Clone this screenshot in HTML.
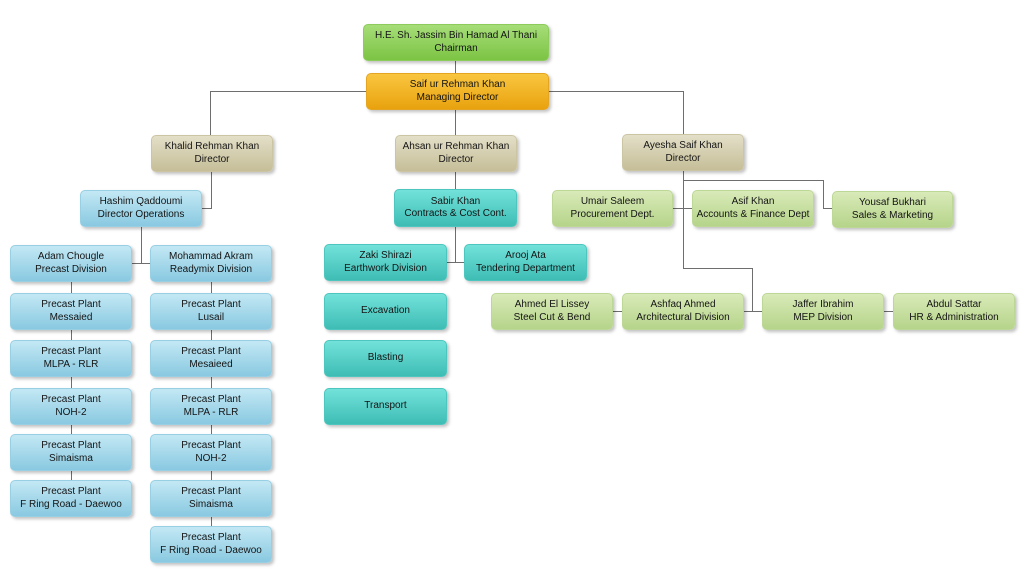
<!DOCTYPE html>
<html><head><meta charset="utf-8"><style>
html,body{margin:0;padding:0;background:#fff;}
body{width:1023px;height:570px;position:relative;overflow:hidden;font-family:"Liberation Sans",Arial,sans-serif;}
.b{position:absolute;width:122px;height:37px;border-radius:5px;box-sizing:border-box;display:flex;align-items:center;justify-content:center;text-align:center;font-size:10px;line-height:12.5px;color:#141414;box-shadow:2px 2px 3px rgba(0,0,0,0.25);white-space:nowrap;}
.g{background:linear-gradient(#a6dd78,#7cc444);border:1px solid #8ccb5c;}
.o{background:linear-gradient(#f9c640,#e9a20e);border:1px solid #e4a622;}
.t{background:linear-gradient(#e3dfc8,#c6be98);border:1px solid #ccc5a4;}
.bl{background:linear-gradient(#c3e8f4,#89c9e1);border:1px solid #98cfe3;}
.tl{background:linear-gradient(#72e2da,#3ebdb5);border:1px solid #4cc6be;}
.lg{background:linear-gradient(#d9eab8,#b6d48a);border:1px solid #bcd796;}
svg{position:absolute;left:0;top:0;}
</style></head><body>
<svg width="1023" height="570" viewBox="0 0 1023 570">
<g stroke="#6e6e6e" stroke-width="1" fill="none" shape-rendering="crispEdges">
<path d="M455.5 60 V73"/>
<path d="M366 91.5 H210.5 V135"/>
<path d="M548 91.5 H683.5 V134"/>
<path d="M455.5 109 V135"/>
<path d="M211.5 172 V208.5 H202"/>
<path d="M141.5 227 V263.5"/>
<path d="M132 263.5 H150"/>
<path d="M71.5 282 V480"/>
<path d="M211.5 282 V526"/>
<path d="M455.5 171 V189"/>
<path d="M455.5 227 V262.5"/>
<path d="M447 262.5 H464"/>
<path d="M683.5 171 V268.5 H752.5 V311.5"/>
<path d="M683.5 180.5 H823.5 V208.5 H832"/>
<path d="M673 208.5 H692"/>
<path d="M613 311.5 H622"/>
<path d="M744 311.5 H762"/>
<path d="M884 311.5 H893"/>
</g>
</svg>

<div class="b g" style="left:363px;top:24px;width:186px;height:37px;">H.E. Sh. Jassim Bin Hamad Al Thani<br>Chairman</div>
<div class="b o" style="left:366px;top:73px;width:183px;height:37px;">Saif ur Rehman Khan<br>Managing Director</div>

<div class="b t" style="left:151px;top:135px;">Khalid Rehman Khan<br>Director</div>
<div class="b t" style="left:395px;top:135px;">Ahsan ur Rehman Khan<br>Director</div>
<div class="b t" style="left:622px;top:134px;">Ayesha Saif Khan<br>Director</div>

<div class="b bl" style="left:80px;top:190px;">Hashim Qaddoumi<br>Director Operations</div>
<div class="b bl" style="left:10px;top:245px;">Adam Chougle<br>Precast Division</div>
<div class="b bl" style="left:150px;top:245px;">Mohammad Akram<br>Readymix Division</div>

<div class="b bl" style="left:10px;top:293px;">Precast Plant<br>Messaied</div>
<div class="b bl" style="left:10px;top:340px;">Precast Plant<br>MLPA - RLR</div>
<div class="b bl" style="left:10px;top:388px;">Precast Plant<br>NOH-2</div>
<div class="b bl" style="left:10px;top:434px;">Precast Plant<br>Simaisma</div>
<div class="b bl" style="left:10px;top:480px;">Precast Plant<br>F Ring Road - Daewoo</div>

<div class="b bl" style="left:150px;top:293px;">Precast Plant<br>Lusail</div>
<div class="b bl" style="left:150px;top:340px;">Precast Plant<br>Mesaieed</div>
<div class="b bl" style="left:150px;top:388px;">Precast Plant<br>MLPA - RLR</div>
<div class="b bl" style="left:150px;top:434px;">Precast Plant<br>NOH-2</div>
<div class="b bl" style="left:150px;top:480px;">Precast Plant<br>Simaisma</div>
<div class="b bl" style="left:150px;top:526px;">Precast Plant<br>F Ring Road - Daewoo</div>

<div class="b tl" style="left:394px;top:189px;width:123px;height:38px;">Sabir Khan<br>Contracts &amp; Cost Cont.</div>
<div class="b tl" style="left:324px;top:244px;width:123px;">Zaki Shirazi<br>Earthwork Division</div>
<div class="b tl" style="left:464px;top:244px;width:123px;">Arooj Ata<br>Tendering Department</div>
<div class="b tl" style="left:324px;top:293px;width:123px;">Excavation</div>
<div class="b tl" style="left:324px;top:340px;width:123px;">Blasting</div>
<div class="b tl" style="left:324px;top:388px;width:123px;">Transport</div>

<div class="b lg" style="left:552px;top:190px;width:121px;">Umair Saleem<br>Procurement Dept.</div>
<div class="b lg" style="left:692px;top:190px;">Asif Khan<br>Accounts &amp; Finance Dept</div>
<div class="b lg" style="left:832px;top:191px;width:121px;">Yousaf Bukhari<br>Sales &amp; Marketing</div>

<div class="b lg" style="left:491px;top:293px;">Ahmed El Lissey<br>Steel Cut &amp; Bend</div>
<div class="b lg" style="left:622px;top:293px;">Ashfaq Ahmed<br>Architectural Division</div>
<div class="b lg" style="left:762px;top:293px;">Jaffer Ibrahim<br>MEP Division</div>
<div class="b lg" style="left:893px;top:293px;">Abdul Sattar<br>HR &amp; Administration</div>
</body></html>
